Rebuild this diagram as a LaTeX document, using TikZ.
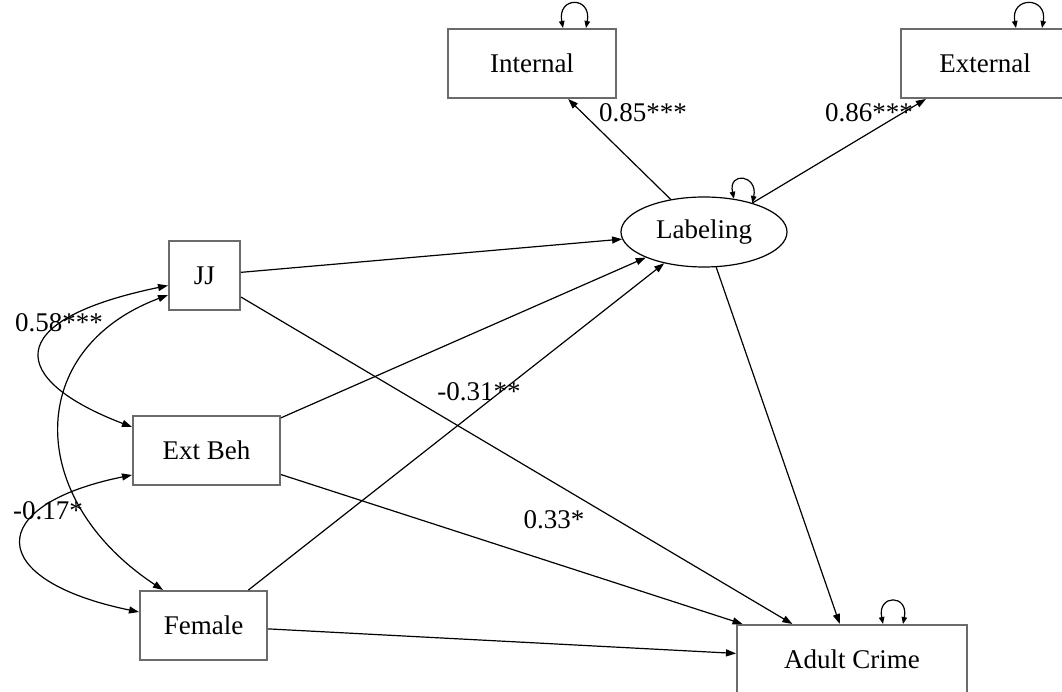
\documentclass[tikz,border=0pt]{standalone}
\usepackage{fontspec}
\setmainfont{Liberation Serif}
\usetikzlibrary{arrows.meta,shapes.geometric}

\begin{document}
\begin{tikzpicture}[x=1pt, y=-1pt,
  font=\fontsize{27}{32}\selectfont,
  obs/.style={draw=black!58, line width=2pt, rectangle, minimum height=69pt, inner sep=0pt},
  lat/.style={draw=black, line width=1.2pt, ellipse, minimum width=166pt, minimum height=70pt, inner sep=0pt},
  path/.style={draw=black, line width=1.2pt, -{Triangle[length=10pt,width=7pt]}},
  cov/.style={draw=black, line width=1.2pt, {Triangle[length=10pt,width=7pt]}-{Triangle[length=10pt,width=7pt]}},
  selfloop/.style={draw=black, line width=1.2pt, {Triangle[length=7pt,width=5.5pt]}-{Triangle[length=7pt,width=5.5pt]}},
  coef/.style={inner sep=0pt}
]
\clip (0,0) rectangle (1062,692);

% indicators, latent factor, predictors and outcome
\node[obs, minimum width=168pt] (int) at (532,63.5) {Internal};
\node[obs, minimum width=168pt] (ext) at (985,63.5) {External};
\node[lat] (lab) at (704,232) {Labeling};
\node[obs, minimum width=71pt] (jj) at (204.5,275.5) {JJ};
\node[obs, minimum width=147pt] (eb) at (206.5,450.5) {Ext Beh};
\node[obs, minimum width=127pt] (fem) at (203.5,625.5) {Female};
\node[obs, minimum width=230pt] (ac) at (852,659.5) {Adult Crime};

% loadings
\draw[path] (lab) -- (int);
\draw[path] (lab) -- (ext);

% regressions
\draw[path] (jj) -- (lab);
\draw[path] (eb) -- (lab);
\draw[path] (fem) -- (lab);
\draw[path] (jj) -- (ac);
\draw[path] (eb) -- (ac);
\draw[path] (fem) -- (ac);
\draw[path] (lab) -- (ac);

% covariances among the predictors
\draw[cov] ([yshift=-10pt]jj.west) .. controls +(-169,35) and +(-123,-47) .. ([yshift=23.5pt]eb.west);
\draw[cov] ([yshift=-19.5pt]jj.west) .. controls +(-144,54) and +(-138,-91) .. ([xshift=-40.5pt]fem.north);
\draw[cov] ([yshift=-24.5pt]eb.west) .. controls +(-148,30) and +(-155,-32) .. ([yshift=13.5pt]fem.west);

% residual variances
\draw[selfloop] ([xshift=31pt]int.north) .. controls +(-6,-32) and +(6,-32) .. ([xshift=54pt]int.north);
\draw[selfloop] ([xshift=31pt]ext.north) .. controls +(-6,-32) and +(6,-32) .. ([xshift=57pt]ext.north);
\draw[selfloop] (lab.48) .. controls +(-6,-28) and +(6,-28) .. (lab.31);
\draw[selfloop] ([xshift=31pt]ac.north) .. controls +(-6,-30) and +(6,-30) .. ([xshift=51pt]ac.north);

% coefficient labels
\node[coef] (c1) at (643,113) {0.85***};
\node[coef] (c2) at (869,113) {0.86***};
\node[coef] (c3) at (59,323) {0.58***};
\node[coef] (c4) at (48,511) {-0.17*};
\node[coef] (c5) at (479,392) {-0.31**};
\node[coef] (c6) at (554,520) {0.33*};
\end{tikzpicture}
\end{document}
